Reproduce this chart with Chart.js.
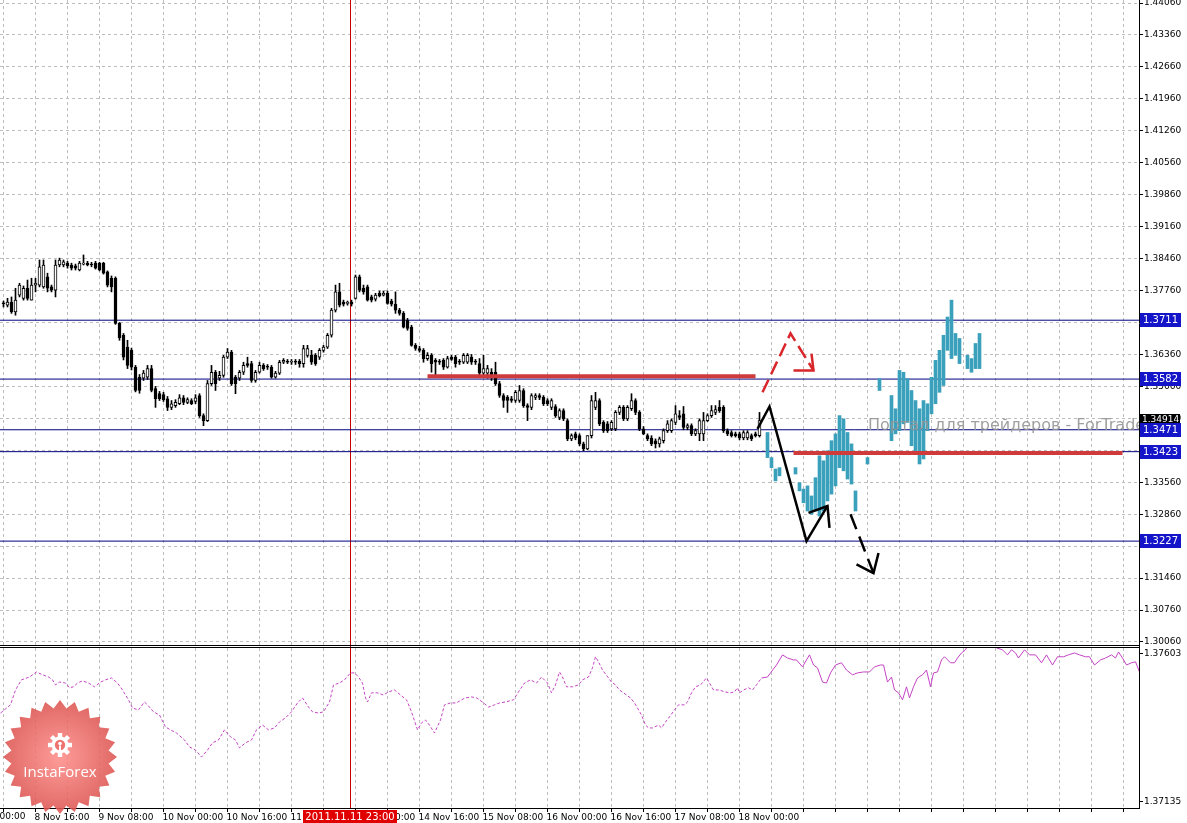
<!DOCTYPE html>
<html><head><meta charset="utf-8">
<script src="https://cdn.jsdelivr.net/npm/chart.js@4.4.1/dist/chart.umd.min.js"></script>
<style>html,body{margin:0;padding:0;background:#fff;overflow:hidden}canvas{display:block}</style>
</head><body>
<canvas id="c" width="1187" height="823"></canvas>
<script>
// ---- EURUSD H1 candles, bar index 0 = 8 Nov 08:00 ----
const opens=[1.3748,1.3744,1.3751,1.3729,1.3766,1.3759,1.3781,1.3755,1.3788,1.3788,
1.3784,1.3806,1.3784,1.3777,1.3832,1.3832,1.3836,1.3832,1.3830,1.3821,
1.3834,1.3836,1.3834,1.3836,1.3836,1.3836,1.3817,1.3803,1.3803,1.3704,
1.3678,1.3652,1.3645,1.3608,1.3586,1.3584,1.3586,1.3605,1.3561,1.3550,
1.3548,1.3539,1.3520,1.3524,1.3528,1.3541,1.3531,1.3535,1.3533,1.3546,
1.3502,1.3491,1.3572,1.3597,1.3584,1.3590,1.3630,1.3641,1.3586,1.3584,
1.3597,1.3616,1.3616,1.3579,1.3597,1.3612,1.3610,1.3608,1.3586,1.3595,
1.3619,1.3621,1.3619,1.3621,1.3621,1.3616,1.3634,1.3634,1.3634,1.3630,
1.3645,1.3652,1.3678,1.3733,1.3773,1.3751,1.3748,1.3751,1.3759,1.3806,
1.3781,1.3784,1.3762,1.3757,1.3770,1.3766,1.3770,1.3753,1.3746,1.3733,
1.3726,1.3711,1.3696,1.3656,1.3649,1.3645,1.3627,1.3634,1.3623,1.3621,
1.3623,1.3608,1.3630,1.3630,1.3621,1.3619,1.3619,1.3630,1.3621,1.3616,
1.3595,1.3595,1.3597,1.3597,1.3572,1.3546,1.3542,1.3539,1.3535,1.3535,
1.3557,1.3524,1.3520,1.3542,1.3546,1.3542,1.3535,1.3520,1.3522,1.3498,
1.3513,1.3491,1.3451,1.3462,1.3458,1.3440,1.3429,1.3458,1.3520,1.3535,
1.3487,1.3484,1.3473,1.3473,1.3509,1.3520,1.3495,1.3517,1.3535,1.3509,
1.3473,1.3458,1.3453,1.3447,1.3440,1.3447,1.3469,1.3469,1.3487,1.3502,
1.3506,1.3476,1.3480,1.3462,1.3462,1.3462,1.3491,1.3502,1.3509,1.3520,
1.3520,1.3469,1.3465,1.3462,1.3462,1.3453,1.3453,1.3458,1.3462,1.3458];
const highs=[1.3753,1.3759,1.3762,1.3781,1.3792,1.3786,1.3799,1.3803,1.3803,1.3843,
1.3843,1.3814,1.3788,1.3843,1.3847,1.3843,1.3840,1.3836,1.3834,1.3840,
1.3854,1.3840,1.3838,1.3840,1.3838,1.3838,1.3819,1.3808,1.3806,1.3706,
1.3682,1.3667,1.3650,1.3612,1.3592,1.3601,1.3612,1.3612,1.3566,1.3555,
1.3553,1.3544,1.3535,1.3537,1.3548,1.3546,1.3541,1.3539,1.3548,1.3550,
1.3506,1.3579,1.3612,1.3601,1.3599,1.3634,1.3649,1.3645,1.3590,1.3601,
1.3619,1.3630,1.3621,1.3601,1.3619,1.3616,1.3614,1.3612,1.3599,1.3623,
1.3627,1.3625,1.3625,1.3625,1.3625,1.3656,1.3656,1.3645,1.3638,1.3649,
1.3656,1.3682,1.3737,1.3788,1.3792,1.3755,1.3753,1.3755,1.3810,1.3810,
1.3788,1.3788,1.3766,1.3770,1.3775,1.3775,1.3775,1.3757,1.3773,1.3737,
1.3730,1.3715,1.3700,1.3660,1.3654,1.3649,1.3640,1.3638,1.3627,1.3625,
1.3627,1.3632,1.3634,1.3634,1.3625,1.3638,1.3638,1.3636,1.3625,1.3627,
1.3634,1.3612,1.3605,1.3619,1.3577,1.3550,1.3546,1.3544,1.3557,1.3568,
1.3561,1.3528,1.3550,1.3550,1.3550,1.3546,1.3539,1.3539,1.3526,1.3517,
1.3517,1.3495,1.3462,1.3466,1.3462,1.3444,1.3458,1.3546,1.3553,1.3539,
1.3491,1.3489,1.3491,1.3513,1.3524,1.3524,1.3524,1.3550,1.3539,1.3513,
1.3478,1.3462,1.3458,1.3451,1.3455,1.3473,1.3491,1.3495,1.3524,1.3513,
1.3522,1.3484,1.3484,1.3473,1.3495,1.3509,1.3506,1.3524,1.3524,1.3535,
1.3524,1.3473,1.3469,1.3466,1.3466,1.3469,1.3469,1.3462,1.3466,1.3509];
const lows=[1.3740,1.3740,1.3726,1.3722,1.3762,1.3755,1.3755,1.3755,1.3773,1.3784,
1.3781,1.3773,1.3773,1.3762,1.3828,1.3828,1.3825,1.3821,1.3821,1.3819,
1.3832,1.3830,1.3828,1.3823,1.3819,1.3812,1.3784,1.3773,1.3702,1.3667,
1.3624,1.3605,1.3602,1.3554,1.3551,1.3579,1.3581,1.3554,1.3520,1.3535,
1.3533,1.3513,1.3515,1.3520,1.3526,1.3526,1.3528,1.3526,1.3528,1.3498,
1.3480,1.3489,1.3568,1.3557,1.3579,1.3586,1.3627,1.3568,1.3550,1.3579,
1.3592,1.3608,1.3575,1.3575,1.3595,1.3601,1.3603,1.3584,1.3584,1.3592,
1.3616,1.3616,1.3614,1.3614,1.3608,1.3608,1.3630,1.3614,1.3612,1.3625,
1.3641,1.3649,1.3674,1.3729,1.3740,1.3742,1.3744,1.3742,1.3757,1.3773,
1.3768,1.3753,1.3751,1.3753,1.3762,1.3764,1.3746,1.3742,1.3726,1.3722,
1.3694,1.3689,1.3654,1.3645,1.3641,1.3619,1.3623,1.3597,1.3590,1.3614,
1.3603,1.3606,1.3623,1.3608,1.3614,1.3616,1.3616,1.3614,1.3614,1.3588,
1.3590,1.3584,1.3579,1.3568,1.3542,1.3520,1.3509,1.3531,1.3531,1.3531,
1.3520,1.3491,1.3515,1.3537,1.3537,1.3524,1.3524,1.3515,1.3498,1.3493,
1.3491,1.3447,1.3447,1.3449,1.3436,1.3425,1.3427,1.3453,1.3515,1.3480,
1.3465,1.3465,1.3469,1.3469,1.3504,1.3491,1.3491,1.3513,1.3504,1.3469,
1.3460,1.3447,1.3436,1.3431,1.3433,1.3442,1.3465,1.3465,1.3482,1.3493,
1.3471,1.3471,1.3458,1.3458,1.3447,1.3447,1.3489,1.3498,1.3504,1.3509,
1.3465,1.3458,1.3455,1.3455,1.3449,1.3449,1.3449,1.3447,1.3455,1.3455];
const closes=[1.3747,1.3751,1.3729,1.3755,1.3788,1.3781,1.3759,1.3788,1.3792,1.3828,
1.3832,1.3781,1.3777,1.3832,1.3843,1.3839,1.3830,1.3825,1.3825,1.3836,
1.3836,1.3832,1.3832,1.3825,1.3821,1.3814,1.3788,1.3784,1.3704,1.3673,
1.3630,1.3612,1.3608,1.3557,1.3557,1.3595,1.3605,1.3557,1.3539,1.3539,
1.3537,1.3520,1.3528,1.3531,1.3541,1.3531,1.3537,1.3528,1.3541,1.3502,
1.3491,1.3572,1.3597,1.3572,1.3590,1.3630,1.3641,1.3572,1.3572,1.3597,
1.3612,1.3612,1.3579,1.3597,1.3612,1.3605,1.3608,1.3586,1.3595,1.3619,
1.3623,1.3619,1.3621,1.3619,1.3616,1.3649,1.3649,1.3619,1.3616,1.3645,
1.3652,1.3678,1.3733,1.3773,1.3744,1.3746,1.3748,1.3746,1.3806,1.3777,
1.3773,1.3755,1.3755,1.3766,1.3764,1.3770,1.3748,1.3746,1.3733,1.3726,
1.3696,1.3693,1.3656,1.3649,1.3645,1.3627,1.3634,1.3616,1.3619,1.3619,
1.3608,1.3627,1.3625,1.3616,1.3619,1.3634,1.3634,1.3619,1.3619,1.3595,
1.3605,1.3605,1.3586,1.3572,1.3546,1.3535,1.3535,1.3535,1.3553,1.3557,
1.3524,1.3520,1.3546,1.3546,1.3542,1.3528,1.3528,1.3535,1.3502,1.3513,
1.3495,1.3451,1.3458,1.3453,1.3440,1.3429,1.3458,1.3535,1.3535,1.3484,
1.3469,1.3469,1.3487,1.3509,1.3520,1.3495,1.3520,1.3535,1.3509,1.3473,
1.3462,1.3451,1.3440,1.3440,1.3451,1.3469,1.3484,1.3491,1.3506,1.3498,
1.3476,1.3480,1.3462,1.3469,1.3491,1.3491,1.3502,1.3513,1.3515,1.3513,
1.3469,1.3462,1.3458,1.3458,1.3453,1.3465,1.3465,1.3451,1.3458,1.3491];

// ---- projected (teal) bars: bar index, low, high ----
const forecastBars=[191,192,193,194,198,199,200,201,202,203,204,205,206,207,208,209,210,211,212,213,216,219,
 222,223,224,225,226,227,228,229,230,231,232,233,234,235,236,237,238,239,241,242,243,244];
const forecastLow=[1.3410,1.3388,1.3359,1.3370,1.3374,1.3337,1.3311,1.3293,1.3286,1.3293,1.3282,1.3293,1.3315,1.3330,1.3348,1.3388,1.3381,1.3363,1.3352,1.3293,1.3396,1.3557,
 1.3447,1.3462,1.3469,1.3484,1.3487,1.3436,1.3419,1.3396,1.3407,1.3469,1.3506,1.3528,1.3553,1.3568,1.3645,1.3627,1.3634,1.3616,1.3605,1.3597,1.3605,1.3605];
const forecastHigh=[1.3465,1.3410,1.3385,1.3388,1.3388,1.3355,1.3341,1.3348,1.3326,1.3366,1.3414,1.3403,1.3425,1.3447,1.3462,1.3502,1.3495,1.3465,1.3440,1.3337,1.3410,1.3583,
 1.3546,1.3517,1.3601,1.3597,1.3583,1.3557,1.3535,1.3517,1.3535,1.3528,1.3586,1.3623,1.3645,1.3678,1.3718,1.3755,1.3682,1.3671,1.3634,1.3627,1.3660,1.3682];

// ---- lower indicator ----
const indBars=[-0.75,1.75,3,4.5,6.5,8.25,9.75,11.25,12.25,13,14,15.5,16.5,17.5,18.5,19.75,21.25,22.75,24.25,25.5,27,28.5,29.75,31.25,32.25,33.75,35.25,36,37.5,39,40.5,41.75,43.25,45.25,46.5,48,49.5,51,52.25,53.75,55.25,56.75,58,59,60.5,62,63.25,64.75,66.25,67.75,69,70.5,72,73.5,74.75,76.25,77.25,78.75,80,81.5,82.5,84,85.25,86.75,87.75,88.75,89.75,90.5,91,92,93.5,95,96.25,97.75,99.25,100.75,102,103.5,104.5,105.5,106.5,107.75,109.25,110.25,111.75,113.25,114.5,115.5,117,118.25,119.75,121.25,122.75,124,125.5,127.5,128.75,130.25,131.75,133.25,134.5,136,137,138,139,139.75,140.75,142.25,143.75,144.75,146.25,147.25,148,148.75,149.75,151.25,152,153,154,155,155.75,156.75,157.75,158.5,159.5,160.5,161.25,162.25,163.75,164.5,165.5,166.5,167.75,168.75,170.25,171,172,173,174.25,175.75,176.5,177.5,179,180.25,181.75,182.75,183.5,184,185,186.25,187.25,188.25,189.5,191,191.75,193.25,194.75,196,197.5,198.25,199.75,200.75,201.5,202.5,203.5,204.75,205.75,206.75,208,209.5,210.75,212.25,213.5,215,216.5,217.75,219.25,220,221,222,222.75,223.75,224.75,225.75,226.5,227.5,228.5,229.75,230.75,231.75,232.5,233.5,234.5,235.25,236.75,237.75,238.5,239.5,240.5,241.25,243.75,246.75,248.25,249.75,251,252,253,253.75,255.25,256.5,258,259.5,260.75,262.25,263.5,265,266.25,267.75,269,270.5,271.5,272.75,274.25,275.5,277,278,278.75,279.75,280.75,282,283,284];
const indValues=[1.37416,1.37442,1.37489,1.37521,1.37530,1.37546,1.37537,1.37530,1.37521,1.37505,1.37514,1.37511,1.37496,1.37499,1.37511,1.37518,1.37511,1.37499,1.37514,1.37521,1.37527,1.37511,1.37489,1.37458,1.37432,1.37426,1.37451,1.37442,1.37420,1.37410,1.37372,1.37363,1.37353,1.37331,1.37309,1.37299,1.37277,1.37299,1.37322,1.37331,1.37363,1.37341,1.37331,1.37306,1.37322,1.37331,1.37363,1.37378,1.37363,1.37369,1.37388,1.37401,1.37420,1.37448,1.37464,1.37435,1.37420,1.37416,1.37420,1.37451,1.37505,1.37511,1.37521,1.37543,1.37543,1.37530,1.37511,1.37464,1.37451,1.37480,1.37480,1.37473,1.37483,1.37489,1.37473,1.37458,1.37420,1.37363,1.37385,1.37394,1.37378,1.37353,1.37394,1.37442,1.37448,1.37448,1.37458,1.37464,1.37467,1.37464,1.37451,1.37435,1.37442,1.37448,1.37451,1.37458,1.37483,1.37511,1.37521,1.37511,1.37530,1.37511,1.37480,1.37505,1.37546,1.37530,1.37499,1.37499,1.37505,1.37521,1.37530,1.37559,1.37594,1.37578,1.37552,1.37527,1.37514,1.37505,1.37489,1.37480,1.37473,1.37464,1.37448,1.37432,1.37410,1.37378,1.37369,1.37369,1.37378,1.37369,1.37388,1.37404,1.37426,1.37442,1.37442,1.37451,1.37480,1.37499,1.37505,1.37527,1.37511,1.37489,1.37489,1.37483,1.37480,1.37483,1.37496,1.37480,1.37489,1.37496,1.37489,1.37505,1.37527,1.37530,1.37543,1.37568,1.37600,1.37590,1.37584,1.37584,1.37562,1.37584,1.37600,1.37568,1.37559,1.37514,1.37511,1.37543,1.37568,1.37575,1.37552,1.37537,1.37543,1.37546,1.37546,1.37562,1.37568,1.37568,1.37514,1.37530,1.37489,1.37480,1.37458,1.37499,1.37464,1.37499,1.37527,1.37537,1.37552,1.37499,1.37543,1.37546,1.37584,1.37594,1.37575,1.37575,1.37590,1.37606,1.37616,1.37638,1.37653,1.37647,1.37622,1.37616,1.37600,1.37616,1.37606,1.37590,1.37616,1.37600,1.37600,1.37575,1.37600,1.37568,1.37594,1.37594,1.37600,1.37606,1.37600,1.37594,1.37594,1.37568,1.37584,1.37590,1.37600,1.37590,1.37609,1.37590,1.37568,1.37575,1.37578,1.37546];
const indDashedUntil=189.5;

// ---- axes ----
const priceTicks=[1.30060,1.30760,1.31460,1.32160,1.32860,1.33560,1.34260,1.34960,1.35660,1.36360,1.37060,1.37760,1.38460,1.39160,1.39860,1.40560,1.41260,1.41960,1.42660,1.43360,1.44060];
const indTicks=[1.37135,1.37603];
const timeLabelBars=[-8,8,24,40,56,72,88,104,120,136,152,168,184];
const timeLabels=['8 Nov 00:00','8 Nov 16:00','9 Nov 08:00','10 Nov 00:00','10 Nov 16:00','11 Nov 08:00','14 Nov 00:00','14 Nov 16:00','15 Nov 08:00','16 Nov 00:00','16 Nov 16:00','17 Nov 08:00','18 Nov 00:00'];

// ---- drawn objects ----
const levelPrices=[1.3711,1.3582,1.3471,1.3423,1.3227];
const levelLabels=['1.3711','1.3582','1.3471','1.3423','1.3227'];
const bidPrice=1.34914;
const crossBar=87, crossLabel='2011.11.11 23:00';
const redLineFrom=[106,197.5], redLineTo=[188,279.75], redLinePrice=[1.3588,1.3420];
const redArrowBars=[189.75,196.75,202.5], redArrowPrices=[1.3553,1.3682,1.3601];
const redHeadBars=[197.5,202.5,202], redHeadPrices=[1.3601,1.3601,1.3638];
const blackArrowBars=[188.5,191.5,200.75,206], blackArrowPrices=[1.3473,1.3522,1.3227,1.3304];
const blackHeadBars=[201.25,206,206.5], blackHeadPrices=[1.3289,1.3304,1.3256];
const dashArrowBars=[211.75,217.5], dashArrowPrices=[1.3286,1.3157];
const dashHeadBars=[213.25,217.5,218.75], dashHeadPrices=[1.3176,1.3157,1.3201];

const X_MIN=-0.875, X_MAX=283.875;
const FONT='"DejaVu Sans", Tahoma, sans-serif';

const pts=(xs,ys)=>xs.map((x,i)=>({x:x,y:ys[i]}));
const levelData=[]; levelPrices.forEach(p=>{levelData.push({x:X_MIN,y:p},{x:X_MAX,y:p},{x:X_MAX,y:null});});
const redData=[]; redLinePrice.forEach((p,i)=>{redData.push({x:redLineFrom[i],y:p},{x:redLineTo[i],y:p},{x:redLineTo[i],y:null});});

const lineDs=(data,color,width,dash,order,extra)=>Object.assign({type:'line',data:data,borderColor:color,borderWidth:width,borderDash:dash,pointRadius:0,fill:false,tension:0,spanGaps:false,order:order,yAxisID:'y',borderCapStyle:'butt',borderJoinStyle:'miter'},extra||{});

const decor={
  id:'decor',
  beforeDatasetDraw(chart,args){
    const ds=chart.data.datasets[args.index];
    if(ds.yAxisID==='yInd'){const s=chart.scales.yInd,a=chart.chartArea,ctx=chart.ctx;ctx.save();ctx.beginPath();ctx.rect(a.left,s.top+2,a.right-a.left,s.bottom-s.top-2);ctx.clip();}
  },
  afterDatasetDraw(chart,args){
    const ds=chart.data.datasets[args.index];
    if(ds.yAxisID==='yInd'){chart.ctx.restore();}
  },
  beforeDatasetsDraw(chart){
    const {ctx,chartArea:a,scales}=chart;
    const px=Math.floor(scales.x.getPixelForValue(crossBar))-0.5;
    ctx.save();ctx.strokeStyle='#c80000';ctx.lineWidth=1;ctx.beginPath();ctx.moveTo(px,a.top);ctx.lineTo(px,a.bottom);ctx.stroke();ctx.restore();
  },
  afterDatasetsDraw(chart){
    const {ctx,chartArea:a,scales}=chart;const y=scales.y;
    // watermark
    ctx.save();ctx.beginPath();ctx.rect(a.left,y.top,a.right-a.left,y.bottom-y.top);ctx.clip();
    ctx.font='16px '+FONT;ctx.fillStyle='rgba(150,150,150,0.9)';ctx.textBaseline='middle';ctx.textAlign='left';
    ctx.fillText('Портал для трейдеров - ForTrader.ru',a.left+868,y.getPixelForValue(1.3480));
    ctx.restore();
    // panel separators
    ctx.save();ctx.fillStyle='#000';
    ctx.fillRect(a.left,Math.round(y.bottom)-1,a.right-a.left,1);
    ctx.fillRect(a.left,Math.round(scales.yInd.top)+1,a.right-a.left,1);
    ctx.restore();
    // badge
    const cx=a.left+60, cy=a.bottom-51;
    ctx.save();ctx.globalAlpha=0.88;
    const g=ctx.createRadialGradient(cx,cy,4,cx,cy,57);g.addColorStop(0,'#fb8a86');g.addColorStop(1,'#dc5450');
    ctx.fillStyle=g;ctx.beginPath();const n=24;
    for(let i=0;i<2*n;i++){const ang=i*Math.PI/n-Math.PI/2;const rr=i%2?49:57;ctx.lineTo(cx+rr*Math.cos(ang),cy+rr*Math.sin(ang));}
    ctx.closePath();ctx.fill();ctx.globalAlpha=1;
    const gx=cx,gy=cy-12;ctx.fillStyle='#fff';ctx.beginPath();ctx.arc(gx,gy,8.5,0,Math.PI*2);ctx.fill();
    for(let i=0;i<8;i++){ctx.save();ctx.translate(gx,gy);ctx.rotate(i*Math.PI/4);ctx.fillRect(-2.2,-12,4.4,5);ctx.restore();}
    ctx.fillStyle='#ee7470';ctx.beginPath();ctx.arc(gx,gy,5.2,0,Math.PI*2);ctx.fill();
    ctx.fillStyle='#fff';ctx.beginPath();ctx.arc(gx,gy-1.5,1.8,0,Math.PI*2);ctx.fill();ctx.fillRect(gx-1,gy+0.5,2,9);
    ctx.font='15px "Open Sans", '+FONT;ctx.textAlign='center';ctx.textBaseline='middle';ctx.fillText('InstaForex',cx,cy+16);
    ctx.restore();
  },
  afterDraw(chart){
    const {ctx,chartArea:a,scales}=chart;const y=scales.y,x=scales.x;
    ctx.save();ctx.textBaseline='middle';ctx.textAlign='left';
    // bid box
    let by=Math.round(y.getPixelForValue(bidPrice));
    ctx.fillStyle='#000';ctx.fillRect(a.right+1,by-6,40,11);
    ctx.fillStyle='#fff';ctx.font='9px '+FONT;ctx.fillText(bidPrice.toFixed(5),a.right+3,by);
    // level boxes
    ctx.font='10px '+FONT;
    levelPrices.forEach((p,i)=>{const ly=Math.round(y.getPixelForValue(p));ctx.fillStyle='#1414c8';ctx.fillRect(a.right+1,ly-7,41,14);ctx.fillStyle='#fff';ctx.fillText(levelLabels[i],a.right+4,ly+0.5);});
    // first partial time label
    ctx.fillStyle='#000';ctx.font='9px '+FONT;ctx.textBaseline='top';
    ctx.fillText(timeLabels[0],x.getPixelForValue(timeLabelBars[0])-1,x.top+4);
    // crosshair time box
    const cxp=Math.floor(x.getPixelForValue(crossBar));
    ctx.fillStyle='#e00000';ctx.fillRect(cxp-48,a.bottom+2,94,chart.height-a.bottom-2);
    ctx.fillStyle='#fff';ctx.font='10px '+FONT;ctx.textAlign='center';ctx.textBaseline='middle';
    ctx.fillText(crossLabel,cxp-1,a.bottom+9);
    ctx.restore();
  }
};

const gridBars=[];for(let b=0;b<=280;b+=8)gridBars.push(b);

new Chart(document.getElementById('c'),{
  type:'bar',
  data:{datasets:[
    {type:'line',data:pts(indBars,indValues),yAxisID:'yInd',borderColor:'#c444c4',borderWidth:1,pointRadius:0,fill:false,tension:0,order:0,
      segment:{borderDash:c=>c.p1.parsed.x<=indDashedUntil?[3,2]:[]}},
    lineDs(pts(redArrowBars,redArrowPrices),'#d8262a',2.5,[14,6],1),
    lineDs(pts(redHeadBars,redHeadPrices),'#d8262a',2.5,[],1),
    lineDs(pts(blackArrowBars,blackArrowPrices),'#000',2.5,[],1),
    lineDs(pts(blackHeadBars,blackHeadPrices),'#000',2.5,[],1),
    lineDs(pts(dashArrowBars,dashArrowPrices),'#000',2.5,[16,8],1),
    lineDs(pts(dashHeadBars,dashHeadPrices),'#000',2.5,[],1),
    lineDs(redData,'#cf3b3b',4,[],2),
    {type:'bar',data:forecastBars.map((b,i)=>({x:b,y:[forecastLow[i],forecastHigh[i]]})),yAxisID:'y',backgroundColor:'#3aa0bb',borderWidth:0,barThickness:3,grouped:false,order:3},
    {type:'bar',data:opens.map((o,i)=>({x:i,y:[o,closes[i]]})),yAxisID:'y',backgroundColor:opens.map((o,i)=>closes[i]>=o?'#ffffff':'#000000'),borderColor:'#000',borderWidth:1,borderSkipped:false,barThickness:3,minBarLength:1,grouped:false,order:4},
    {type:'bar',data:lows.map((l,i)=>({x:i,y:[l,highs[i]]})),yAxisID:'y',backgroundColor:'#000',borderWidth:0,barThickness:1,grouped:false,order:5},
    lineDs(levelData,'#000080',1,[],6)
  ]},
  options:{
    responsive:false,animation:false,devicePixelRatio:1,
    layout:{padding:0},
    plugins:{legend:{display:false},tooltip:{enabled:false}},
    scales:{
      x:{type:'linear',position:'bottom',min:X_MIN,max:X_MAX,offset:false,
        afterBuildTicks:s=>{s.ticks=gridBars.map(v=>({value:v}));},
        afterFit:s=>{s.height=15;s.paddingLeft=0;s.paddingRight=0;},
        grid:{offset:false,color:'#bdbdbd',tickColor:'#000',tickLength:4,tickBorderDash:[]},
        border:{display:true,color:'#000',dash:[3,3]},
        ticks:{z:1,autoSkip:false,maxRotation:0,minRotation:0,align:'start',labelOffset:-1,padding:0,color:'#000',font:{family:FONT,size:9},
          callback:v=>{const i=timeLabelBars.indexOf(v);return i>0?timeLabels[i]:'';}}
      },
      y:{type:'linear',position:'right',stack:'panes',stackWeight:646,min:1.29972,max:1.44126,
        afterBuildTicks:s=>{s.ticks=priceTicks.map(v=>({value:v}));},
        afterFit:s=>{s.width=48;s.paddingTop=0;s.paddingBottom=0;},
        grid:{color:'#bdbdbd',tickColor:'#000',tickLength:4,tickBorderDash:[]},
        border:{display:true,color:'#000',dash:[3,3]},
        ticks:{autoSkip:false,padding:1,color:'#000',font:{family:FONT,size:9},callback:v=>v.toFixed(5)}
      },
      yInd:{type:'linear',position:'right',stack:'panes',stackWeight:162,min:1.37116,max:1.37628,
        afterBuildTicks:s=>{s.ticks=indTicks.map(v=>({value:v}));},
        afterFit:s=>{s.width=48;s.paddingTop=0;s.paddingBottom=0;},
        grid:{drawOnChartArea:false,tickColor:'#000',tickLength:4},
        border:{display:true,color:'#000'},
        ticks:{autoSkip:false,padding:1,color:'#000',font:{family:FONT,size:9},callback:v=>v.toFixed(5)}
      }
    }
  },
  plugins:[decor]
});
</script>
</body></html>
